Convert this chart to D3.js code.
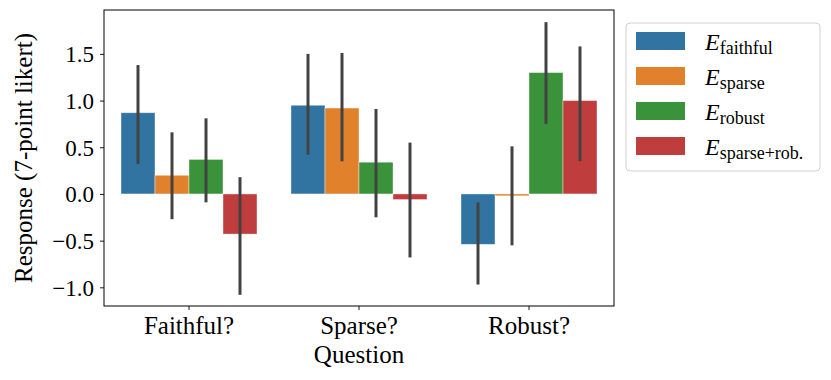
<!DOCTYPE html>
<html>
<head>
<meta charset="utf-8">
<script src="https://cdn.jsdelivr.net/npm/d3@7"></script>
<style>
  body { margin: 0; background: #fff; }
  text { font-family: "Liberation Serif", "DejaVu Serif", serif; fill: #000; }
</style>
</head>
<body>
<script>
// figure size
let width = 831, height = 380
let margin = {top: 10, right: 217, bottom: 74, left: 104}

// data
let questions = ["Faithful?", "Sparse?", "Robust?"]
let explainers = ["faithful", "sparse", "robust", "sparse+rob."]
let colors = ["#3274a1", "#e1812c", "#3a923a", "#c03d3e"]

// mean per explainer, one value per question
let faithfulMean = [0.87, 0.95, -0.54]
let sparseMean   = [0.20, 0.92, -0.02]
let robustMean   = [0.37, 0.34, 1.30]
let sparseRobMean = [-0.43, -0.06, 1.00]

// error bar low / high
let faithfulLo = [0.32, 0.42, -0.97], faithfulHi = [1.38, 1.50, -0.09]
let sparseLo   = [-0.27, 0.35, -0.55], sparseHi   = [0.66, 1.51, 0.51]
let robustLo   = [-0.09, -0.25, 0.75], robustHi   = [0.81, 0.91, 1.84]
let sparseRobLo = [-1.08, -0.68, 0.35], sparseRobHi = [0.18, 0.55, 1.58]

let yTicks = [-1.0, -0.5, 0.0, 0.5, 1.0, 1.5]

let means = [faithfulMean, sparseMean, robustMean, sparseRobMean]
let lows = [faithfulLo, sparseLo, robustLo, sparseRobLo]
let highs = [faithfulHi, sparseHi, robustHi, sparseRobHi]

// flatten into rows for drawing
let rows = []
questions.forEach((q, qi) => {
  explainers.forEach((e, ei) => {
    rows.push({q: q, e: e, ei: ei, v: means[ei][qi], lo: lows[ei][qi], hi: highs[ei][qi]})
  })
})

let svg = d3.select("body").append("svg")
  .attr("width", width)
  .attr("height", height)

let innerW = width - margin.left - margin.right
let innerH = height - margin.top - margin.bottom

let x = d3.scaleBand().domain(questions).range([0, innerW]).paddingInner(0.2).paddingOuter(0.1)
let xSub = d3.scaleBand().domain(explainers).range([0, x.bandwidth()])
let y = d3.scaleLinear().domain([-1.2, 1.97]).range([innerH, 0])

let g = svg.append("g").attr("transform", `translate(${margin.left},${margin.top})`)

// bars
g.append("g")
  .selectAll("rect")
  .data(rows)
  .join("rect")
  .attr("x", d => x(d.q) + xSub(d.e))
  .attr("width", xSub.bandwidth())
  .attr("y", d => y(Math.max(0, d.v)))
  .attr("height", d => Math.abs(y(d.v) - y(0)))
  .attr("fill", d => colors[d.ei])
  .attr("stroke", "#fff")
  .attr("stroke-opacity", 0.5)
  .attr("stroke-width", 0.8)

// error bars
g.append("g")
  .selectAll("line")
  .data(rows)
  .join("line")
  .attr("x1", d => x(d.q) + xSub(d.e) + xSub.bandwidth() / 2)
  .attr("x2", d => x(d.q) + xSub(d.e) + xSub.bandwidth() / 2)
  .attr("y1", d => y(d.lo))
  .attr("y2", d => y(d.hi))
  .attr("stroke", "#424242")
  .attr("stroke-width", 3)

// y axis
let fmt = v => (v < 0 ? "\u2212" : "") + Math.abs(v).toFixed(1)
let yAxis = g.append("g")
  .call(d3.axisLeft(y).tickValues(yTicks).tickFormat(fmt).tickSize(4).tickPadding(6))
yAxis.select(".domain").remove()
yAxis.selectAll("line").attr("stroke", "#000").attr("stroke-width", 0.9)
yAxis.selectAll("text").attr("font-size", 23).attr("font-family", "Liberation Serif").attr("dy", "0.34em")

// x axis
let xAxis = g.append("g")
  .attr("transform", `translate(0,${innerH})`)
  .call(d3.axisBottom(x).tickSize(4).tickPadding(6))
xAxis.select(".domain").remove()
xAxis.selectAll("line").attr("stroke", "#000").attr("stroke-width", 0.9)
xAxis.selectAll("text").attr("font-size", 25).attr("font-family", "Liberation Serif")

// frame
g.append("rect")
  .attr("width", innerW).attr("height", innerH)
  .attr("fill", "none").attr("stroke", "#000").attr("stroke-width", 1)

// axis labels
svg.append("text")
  .attr("x", margin.left + innerW / 2)
  .attr("y", 363)
  .attr("text-anchor", "middle")
  .attr("font-size", 25)
  .text("Question")

svg.append("text")
  .attr("transform", `translate(32,${margin.top + innerH / 2}) rotate(-90)`)
  .attr("text-anchor", "middle")
  .attr("font-size", 25)
  .text("Response (7-point likert)")

// legend
let legend = svg.append("g").attr("transform", "translate(626,23)")
legend.append("rect")
  .attr("width", 194).attr("height", 148)
  .attr("rx", 4)
  .attr("fill", "#fff").attr("stroke", "#d0d0d0").attr("stroke-width", 1)

let item = legend.selectAll("g.item")
  .data(explainers)
  .join("g")
  .attr("class", "item")
  .attr("transform", (d, i) => `translate(10,${9 + i * 35})`)

item.append("rect")
  .attr("width", 49).attr("height", 18)
  .attr("fill", (d, i) => colors[i])

let label = item.append("text")
  .attr("x", 69)
  .attr("y", 18)
  .attr("font-size", 24)
label.append("tspan").attr("font-style", "italic").text("E")
label.append("tspan")
  .attr("font-size", 18)
  .attr("dy", 4)
  .text(d => d)
</script>
</body>
</html>
